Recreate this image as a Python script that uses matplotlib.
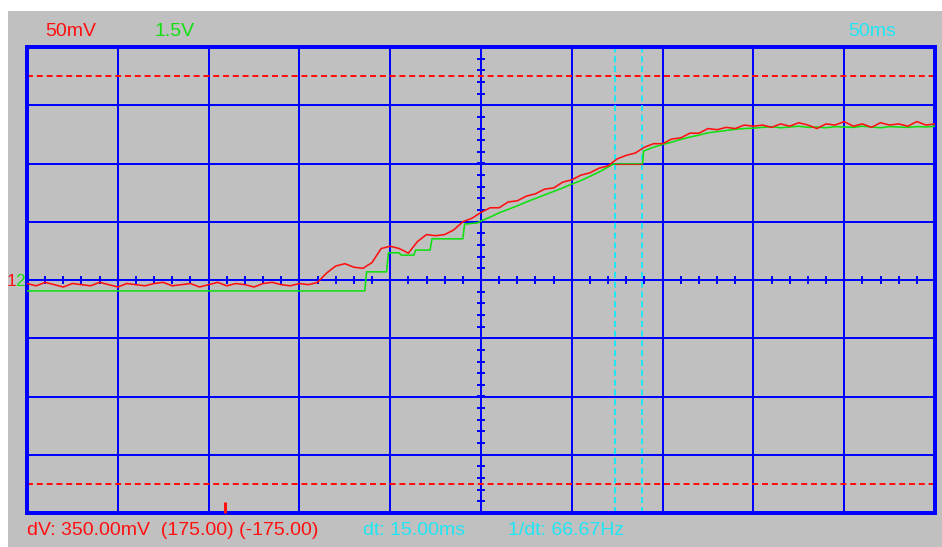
import numpy as np
import matplotlib
matplotlib.use("Agg")
import matplotlib.pyplot as plt

# ---- scope settings / readouts ----
ch1_label = "50mV"
ch2_label = "1.5V"
time_label = "50ms"
ch1_mv_per_div = 50.0
ch2_v_per_div = 1.5
ms_per_div = 50.0
n_hdiv, n_vdiv = 10, 8

readout_dv = "dV: 350.00mV  (175.00) (-175.00)"
readout_dt = "dt: 15.00ms"
readout_f = "1/dt: 66.67Hz"

v_cursors_mv = [175.0, -175.0]
t_cursors_ms = [323.8, 338.8]
trigger_ms = 109.0

# ---- channel 1 (red, mV), sampled every 5 ms from 0 to 500 ms ----
red_sample_ms = 5
red_base = [-3, -5, -2, -4, -6, -3, -4, -5, -2, -4, -6, -3, -4, -5, -3, -2,
            -5, -4, -3, -6, -4, -2, -5, -3, -4, -6, -3, -2, -4, -5, -3]
red_rise = [-4, -2, 6, 12, 14, 11, 10, 15, 27, 29, 27, 23, 33, 39, 38, 39,
            43, 50, 53]
red_ramp = [58, 62, 62, 67, 68, 72, 74, 78, 79, 84, 86, 90, 92, 96, 98, 104,
            107, 109, 114, 117, 117, 121, 122, 126, 126, 130, 129, 131, 130,
            133, 132]
red_top = [133, 131, 134, 132, 135, 133, 130, 134, 133, 136, 132, 134, 131,
           135, 133, 134, 132, 136, 133, 134]
red_mv = red_base + red_rise + red_ramp + red_top

# ---- channel 2 (green, V) ----
green_t_ms = [0, 186, 187, 198, 199, 205, 206, 213, 214, 222, 223, 240, 241,
              248, 250, 255, 260, 265, 270, 275, 280, 285, 290, 295, 300, 305,
              310, 315, 320, 323, 339, 339.5, 345, 350, 355, 360, 365, 370,
              375, 380, 385, 390, 395, 400, 405, 410, 415, 420, 425, 430, 435,
              440, 445, 450, 455, 460, 465, 470, 475, 480, 485, 490, 495, 500]
green_v = [-0.28, -0.28, 0.21, 0.21, 0.70, 0.70, 0.64, 0.64, 0.77, 0.77, 1.06,
           1.06, 1.44, 1.47, 1.52, 1.62, 1.73, 1.82, 1.91, 2.01, 2.10, 2.19,
           2.28, 2.37, 2.47, 2.56, 2.67, 2.78, 2.91, 2.99, 2.99, 3.32, 3.42,
           3.49, 3.55, 3.62, 3.68, 3.73, 3.79, 3.82, 3.85, 3.88, 3.90, 3.91,
           3.93, 3.95, 3.92, 3.94, 3.96, 3.93, 3.94, 3.92, 3.95, 3.94, 3.93,
           3.96, 3.94, 3.92, 3.95, 3.94, 3.93, 3.95, 3.94, 3.96]

# ---- colours ----
BG = "#c0c0c0"
BLUE = "#0000ff"
RED = "#ff1010"
GREEN = "#10e010"
CYAN = "#1ee6f5"

W, H = 942, 547
PX = 72.0 / 100.0  # points per pixel

plt.rcParams["font.family"] = ["Liberation Sans", "DejaVu Sans"]

fig = plt.figure(figsize=(W / 100, H / 100), dpi=100, facecolor="white")

bg = fig.add_axes([8 / W, 0, (W - 8) / W, (H - 11) / H])
bg.set_facecolor(BG)
bg.set_xticks([])
bg.set_yticks([])
for s in bg.spines.values():
    s.set_visible(False)

ax = fig.add_axes([27 / W, (H - 513) / H, 908 / W, 466 / H])
ax.set_facecolor(BG)
xmax = n_hdiv * ms_per_div
ax.set_xlim(0, xmax)
ax.set_ylim(-n_vdiv / 2, n_vdiv / 2)
ax.set_xticks([])
ax.set_yticks([])
for s in ax.spines.values():
    s.set_color(BLUE)
    s.set_linewidth(4 * PX)

# grid
for i in range(1, n_hdiv):
    ax.axvline(i * ms_per_div, color=BLUE, lw=2 * PX, zorder=1)
for j in range(-n_vdiv // 2 + 1, n_vdiv // 2):
    ax.axhline(j, color=BLUE, lw=2 * PX, zorder=1)

# centre-line minor ticks
px_per_ms = 908 / xmax
px_per_div = 466 / n_vdiv
xt = np.arange(0, xmax + 0.01, ms_per_div / 5)
ax.vlines(xt, -3.8 / px_per_div, 3.8 / px_per_div, color=BLUE, lw=2 * PX, zorder=1)
yt = np.arange(-n_vdiv / 2, n_vdiv / 2 + 0.01, 0.2)
xc = xmax / 2
ax.hlines(yt, xc - 4.2 / px_per_ms, xc + 4.2 / px_per_ms, color=BLUE, lw=2 * PX, zorder=1)

# cursors
for v in v_cursors_mv:
    ax.axhline(v / ch1_mv_per_div, color=RED, lw=2 * PX, dashes=(3, 1.9), zorder=2)
for t in t_cursors_ms:
    ax.axvline(t, color=CYAN, lw=2 * PX, dashes=(3, 1.9), zorder=2)

# traces
red_t = np.arange(len(red_mv)) * red_sample_ms
ax.plot(green_t_ms, np.array(green_v) / ch2_v_per_div, color=GREEN, lw=1.6 * PX, zorder=3)
ax.plot(red_t, np.array(red_mv) / ch1_mv_per_div, color=RED, lw=1.6 * PX, zorder=4)

# cursor readout segment between time cursors
lvl = np.interp(t_cursors_ms[0], green_t_ms, green_v) / ch2_v_per_div
ax.plot(t_cursors_ms, [lvl, lvl], color="#d03020", lw=1.2 * PX, zorder=5)

# trigger marker
ax.plot([trigger_ms, trigger_ms], [-n_vdiv / 2, -n_vdiv / 2 + 11 / px_per_div],
        color=RED, lw=3 * PX, solid_capstyle="butt", zorder=6, clip_on=False)


def ftext(x, y, s, color, size=14, ha="left", va="baseline"):
    fig.text(x / W, 1 - y / H, s, color=color, fontsize=size, ha=ha, va=va)


ftext(45, 36, ch1_label, RED)
ftext(155, 36, ch2_label, GREEN)
ftext(848, 36, time_label, CYAN)
ftext(27, 535, readout_dv, RED)
ftext(363, 535, readout_dt, CYAN)
ftext(508, 535, readout_f, CYAN)
ftext(11.5, 285.5, "1", RED, size=12.5, ha="center")
ftext(19.5, 285.5, "2", GREEN, size=12.5, ha="center")

fig.savefig("out.png", dpi=100, facecolor="white")
